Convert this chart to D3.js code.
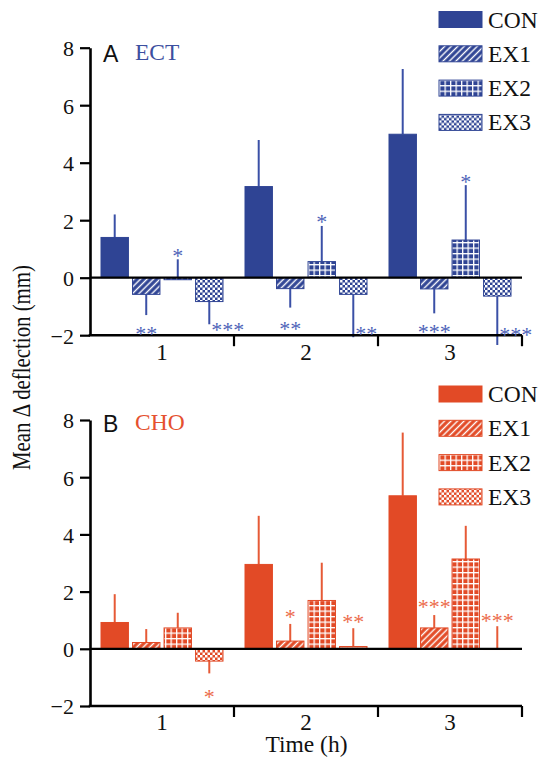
<!DOCTYPE html>
<html><head><meta charset="utf-8">
<script src="https://cdn.jsdelivr.net/npm/d3@7"></script>
<style>
body{margin:0;background:#fff}svg{display:block}
.serif{font-family:"Liberation Serif","Times New Roman",Tinos,"DejaVu Serif",serif}
.sans{font-family:"Liberation Sans",Arial,Helvetica,sans-serif}
</style>
</head><body>
<svg id="chart" width="540" height="767"></svg>
<script>
// ---------- data ----------
const groups = ["1", "2", "3"];
const seriesNames = ["CON", "EX1", "EX2", "EX3"];
const yTicks = [-2, 0, 2, 4, 6, 8];

// Panel A: ECT (mean, and end value of the SD whisker)
const ectCON = [1.40, 3.17, 4.99];
const ectEX1 = [-0.58, -0.38, -0.39];
const ectEX2 = [-0.07, 0.56, 1.31];
const ectEX3 = [-0.83, -0.58, -0.64];
const ectErrCON = [2.20, 4.79, 7.26];
const ectErrEX1 = [-1.30, -1.04, -1.24];
const ectErrEX2 = [0.64, 1.80, 3.22];
const ectErrEX3 = [-1.62, -2.07, -2.34];
const ectStarEX1 = ["**", "**", "***"];
const ectStarEX2 = ["*", "*", "*"];
const ectStarEX3 = ["***", "**", "***"];
const ectStarYEX1 = [-1.82, -1.65, -1.75];
const ectStarYEX2 = [0.89, 2.07, 3.47];
const ectStarYEX3 = [-1.68, -1.82, -1.85];

// Panel B: CHO
const choCON = [0.92, 2.95, 5.35];
const choEX1 = [0.22, 0.27, 0.73];
const choEX2 = [0.73, 1.69, 3.14];
const choEX3 = [-0.43, 0.08, 0.01];
const choErrCON = [1.91, 4.65, 7.56];
const choErrEX1 = [0.69, 0.87, 1.18];
const choErrEX2 = [1.26, 3.01, 4.30];
const choErrEX3 = [-0.86, 0.72, 0.79];
const choStarEX1 = ["", "*", "***"];
const choStarEX3 = ["*", "**", "***"];
const choStarYEX1 = [0, 1.25, 1.60];
const choStarYEX3 = [-1.55, 1.07, 1.12];

// ---------- layout ----------
const svg = d3.select("#chart");
const defs = svg.append("defs");

const panels = [
  { id: "ect", letter: "A", title: "ECT", top: 47.7, bottom: 335.2,
    color: "#2f4494", line: "#3a50a6", star: "#4d63b8", titleColor: "#3c4fa0",
    means: [ectCON, ectEX1, ectEX2, ectEX3],
    errs: [ectErrCON, ectErrEX1, ectErrEX2, ectErrEX3],
    stars: [null, ectStarEX1, ectStarEX2, ectStarEX3],
    starY: [null, ectStarYEX1, ectStarYEX2, ectStarYEX3],
    legendY: 27.5, letterY: 61.5, titleY: 60, startAlignEX3: true },
  { id: "cho", letter: "B", title: "CHO", top: 420, bottom: 706,
    color: "#e24a26", line: "#e65a36", star: "#ec6b4b", titleColor: "#e5512f",
    means: [choCON, choEX1, choEX2, choEX3],
    errs: [choErrCON, choErrEX1, choErrEX2, choErrEX3],
    stars: [null, choStarEX1, null, choStarEX3],
    starY: [null, choStarYEX1, null, choStarYEX3],
    legendY: 402, letterY: 432, titleY: 430, startAlignEX3: false }
];

const x0 = d3.scaleBand().domain(groups).range([90, 522]).paddingInner(0).paddingOuter(0);
const x1 = d3.scaleBand().domain(seriesNames).range([11, 133]).paddingInner(0.13).paddingOuter(0);

function makePatterns(p) {
  const c = p.color;
  const h = defs.append("pattern").attr("id", p.id + "-EX1")
    .attr("patternUnits", "userSpaceOnUse").attr("width", 4.6).attr("height", 4.6)
    .attr("patternTransform", "rotate(45)");
  h.append("rect").attr("width", 4.6).attr("height", 4.6).attr("fill", c);
  h.append("rect").attr("x", 1.6).attr("width", 1.4).attr("height", 4.6).attr("fill", "#fff");
  const g = defs.append("pattern").attr("id", p.id + "-EX2")
    .attr("patternUnits", "userSpaceOnUse").attr("width", 5.5).attr("height", 5.5);
  g.append("rect").attr("width", 5.5).attr("height", 5.5).attr("fill", c);
  g.append("rect").attr("width", 1.3).attr("height", 5.5).attr("fill", "#fff");
  g.append("rect").attr("width", 5.5).attr("height", 1.3).attr("fill", "#fff");
  const k = defs.append("pattern").attr("id", p.id + "-EX3")
    .attr("patternUnits", "userSpaceOnUse").attr("width", 5).attr("height", 5);
  k.append("rect").attr("width", 5).attr("height", 5).attr("fill", c);
  k.append("rect").attr("width", 2.5).attr("height", 2.5).attr("fill", "#fff");
  k.append("rect").attr("x", 2.5).attr("y", 2.5).attr("width", 2.5).attr("height", 2.5).attr("fill", "#fff");
}
function fillFor(p, s) { return s === "CON" ? p.color : `url(#${p.id}-${s})`; }

panels.forEach(p => {
  makePatterns(p);
  const y = d3.scaleLinear().domain([-2, 8]).range([p.bottom, p.top]);
  const g = svg.append("g");

  const rows = [];
  groups.forEach((grp, gi) => seriesNames.forEach((s, si) => {
    rows.push({ grp, gi, s, si, v: p.means[si][gi], e: p.errs[si][gi],
      star: p.stars[si] ? p.stars[si][gi] : "", sy: p.starY[si] ? p.starY[si][gi] : 0 });
  }));
  const cx = d => x0(d.grp) + x1(d.s) + x1.bandwidth() / 2;

  g.selectAll("line.err").data(rows).join("line").attr("class", "err")
    .attr("x1", cx).attr("x2", cx)
    .attr("y1", d => y(d.v)).attr("y2", d => y(d.e))
    .attr("stroke", p.line).attr("stroke-width", 2);

  g.selectAll("rect.bar").data(rows).join("rect").attr("class", "bar")
    .attr("x", d => x0(d.grp) + x1(d.s))
    .attr("width", x1.bandwidth())
    .attr("y", d => y(Math.max(0, d.v)))
    .attr("height", d => Math.max(1, Math.abs(y(d.v) - y(0))))
    .attr("fill", d => fillFor(p, d.s))
    .attr("stroke", p.color).attr("stroke-width", 1);

  g.append("line").attr("x1", 90).attr("x2", 522).attr("y1", y(0)).attr("y2", y(0))
    .attr("stroke", "#000").attr("stroke-width", 2.2);

  const ya = g.append("g").attr("transform", "translate(90,0)")
    .call(d3.axisLeft(y).tickValues(yTicks).tickSize(10).tickSizeOuter(0).tickPadding(6)
      .tickFormat(d => d < 0 ? "\u2212" + Math.abs(d) : String(d)));
  ya.attr("font-family", null).attr("font-size", null);
  ya.select(".domain").attr("stroke-width", 2.6);
  ya.selectAll(".tick line").attr("stroke-width", 2.2);
  ya.selectAll(".tick text").attr("class", "serif").style("font-size", "22px").attr("fill", "#111")
    .attr("dy", "0.36em");

  const xa = g.append("g").attr("transform", `translate(0,${y(-2)})`)
    .call(d3.axisBottom(x0).tickSize(0).tickSizeOuter(0).tickPadding(8));
  xa.attr("font-family", null).attr("font-size", null);
  xa.select(".domain").attr("stroke-width", 2.6).attr("d", "M88.7,0H522");
  xa.selectAll(".tick text").attr("class", "serif").style("font-size", "23px").attr("fill", "#111");
  xa.selectAll("line.sep").data(groups).join("line").attr("class", "sep")
    .attr("x1", d => x0(d) + x0.bandwidth()).attr("x2", d => x0(d) + x0.bandwidth())
    .attr("y1", 0).attr("y2", 11).attr("stroke", "#000").attr("stroke-width", 2.2);

  const starRows = rows.filter(d => d.star);
  g.selectAll("text.star").data(starRows).join("text").attr("class", "star serif")
    .attr("x", d => (p.startAlignEX3 && d.s === "EX3") ? cx(d) + 2 : cx(d))
    .attr("y", d => y(d.sy) + 11)
    .attr("text-anchor", d => (p.startAlignEX3 && d.s === "EX3") ? "start" : "middle")
    .style("font-size", "22px").attr("fill", p.star)
    .text(d => d.star);

  g.append("text").attr("class", "sans").attr("x", 103).attr("y", p.letterY)
    .style("font-size", "23px").attr("fill", "#111").text(p.letter);
  g.append("text").attr("class", "serif").attr("x", 135).attr("y", p.titleY)
    .style("font-size", "23.5px").attr("fill", p.titleColor).text(p.title);

  const lg = g.selectAll("g.leg").data(seriesNames).join("g").attr("class", "leg")
    .attr("transform", (d, i) => `translate(439,${p.legendY + i * 34.3})`);
  lg.append("rect").attr("x", 0).attr("y", -16).attr("width", 43).attr("height", 16)
    .attr("fill", d => fillFor(p, d)).attr("stroke", p.color).attr("stroke-width", 1);
  lg.append("text").attr("class", "serif").attr("x", 49).attr("y", 0)
    .style("font-size", "23.5px").attr("fill", "#111").text(d => d);
});

svg.append("text").attr("class", "serif").attr("x", 306.5).attr("y", 752).attr("text-anchor", "middle")
  .style("font-size", "23.5px").attr("fill", "#111").text("Time (h)");
svg.append("text").attr("class", "serif").attr("transform", "translate(30,367.5) rotate(-90)").attr("text-anchor", "middle")
  .style("font-size", "25px").attr("fill", "#111")
  .attr("textLength", 205).attr("lengthAdjust", "spacingAndGlyphs")
  .text("Mean \u0394 deflection (mm)");
</script>
</body></html>
